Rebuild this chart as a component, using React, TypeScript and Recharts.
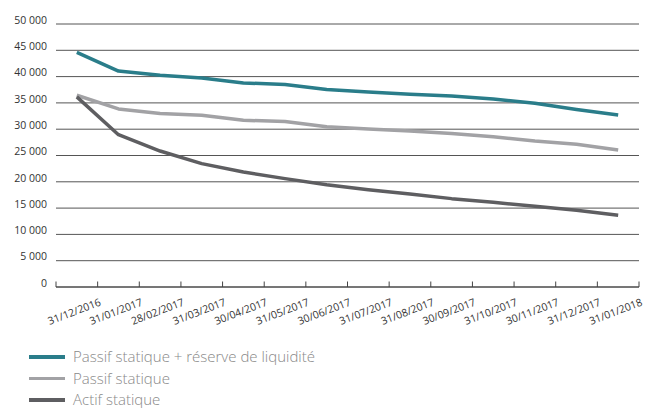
import React from 'react'
import { CartesianGrid, Line, LineChart, XAxis, YAxis } from 'recharts'

const categories = [
  '31/12/2016',
  '31/01/2017',
  '28/02/2017',
  '31/03/2017',
  '30/04/2017',
  '31/05/2017',
  '30/06/2017',
  '31/07/2017',
  '31/08/2017',
  '30/09/2017',
  '31/10/2017',
  '30/11/2017',
  '31/12/2017',
  '31/01/2018',
]

const passifLiquidite = [
  44600, 41050, 40250, 39750, 38800, 38500, 37550, 37050, 36650, 36300, 35750,
  34950, 33750, 32700,
]
const passifStatique = [
  36450, 33850, 33000, 32650, 31700, 31450, 30450, 30050, 29650, 29200, 28550,
  27750, 27150, 26050,
]
const actifStatique = [
  36150, 28950, 25850, 23450, 21850, 20600, 19450, 18500, 17700, 16800, 16100,
  15350, 14600, 13650,
]

const yTicks = [0, 5000, 10000, 15000, 20000, 25000, 30000, 35000, 40000, 45000, 50000]
const xTicks = categories.map((_, i) => i).concat(categories.length)

const series = [
  { key: 'passifLiquidite', name: 'Passif statique + réserve de liquidité', color: '#2a7d8a' },
  { key: 'passifStatique', name: 'Passif statique', color: '#a2a2a5' },
  { key: 'actifStatique', name: 'Actif statique', color: '#5e5e61' },
]

const data = categories.map((label, i) => ({
  x: i + 0.5,
  label,
  passifLiquidite: passifLiquidite[i],
  passifStatique: passifStatique[i],
  actifStatique: actifStatique[i],
}))

const fmt = (v: number) => String(v).replace(/\B(?=(\d{3})+(?!\d))/g, ' ')

const font = '"Open Sans", sans-serif'

const DateTick = (props: any) => {
  const { x, y, payload } = props
  const label = categories[payload.value - 1]
  const tx = x + 4
  const ty = y + 18
  return (
    <g>
      <line x1={x} x2={x} y1={y - 5.5} y2={y} stroke="#444" strokeWidth={1} />
      {label && (
        <text
          x={tx}
          y={ty}
          textAnchor="end"
          fontSize={10.5}
          fill="#333"
          fontFamily={font}
          transform={`rotate(-21, ${tx}, ${ty})`}
        >
          {label}
        </text>
      )}
    </g>
  )
}

export default function App() {
  return (
    <div style={{ position: 'absolute', left: 0, top: 0, width: 654, height: 409, background: '#fff' }}>
      <LineChart
        width={654}
        height={409}
        data={data}
        margin={{ top: 24, right: 15, bottom: 0, left: 0 }}
      >
        <CartesianGrid vertical={false} stroke="#555" strokeWidth={1} />
        <XAxis
          dataKey="x"
          type="number"
          domain={[0, categories.length]}
          ticks={xTicks}
          interval={0}
          height={122}
          axisLine={{ stroke: '#444' }}
          tickLine={false}
          tickSize={0}
          tickMargin={0}
          tick={<DateTick />}
        />
        <YAxis
          type="number"
          domain={[0, 50000]}
          ticks={yTicks}
          width={56}
          axisLine={false}
          tickLine={false}
          tickSize={0}
          tickMargin={9}
          tickFormatter={fmt}
          tick={{ fontSize: 10.5, fill: '#333', fontFamily: font, dy: -4 }}
        />
        {series.map((s) => (
          <Line
            key={s.key}
            dataKey={s.key}
            name={s.name}
            type="linear"
            stroke={s.color}
            strokeWidth={3.5}
            dot={false}
            activeDot={false}
            strokeLinejoin="round"
            isAnimationActive={false}
          />
        ))}
      </LineChart>
      <div style={{ position: 'absolute', left: 29, top: 346, fontFamily: font }}>
        {series.map((s) => (
          <div key={s.key} style={{ display: 'flex', alignItems: 'center', height: 21.5 }}>
            <div style={{ width: 36, height: 3.5, background: s.color, marginRight: 8 }} />
            <span style={{ fontSize: 15, fontWeight: 300, color: '#888', lineHeight: '21px' }}>{s.name}</span>
          </div>
        ))}
      </div>
    </div>
  )
}
